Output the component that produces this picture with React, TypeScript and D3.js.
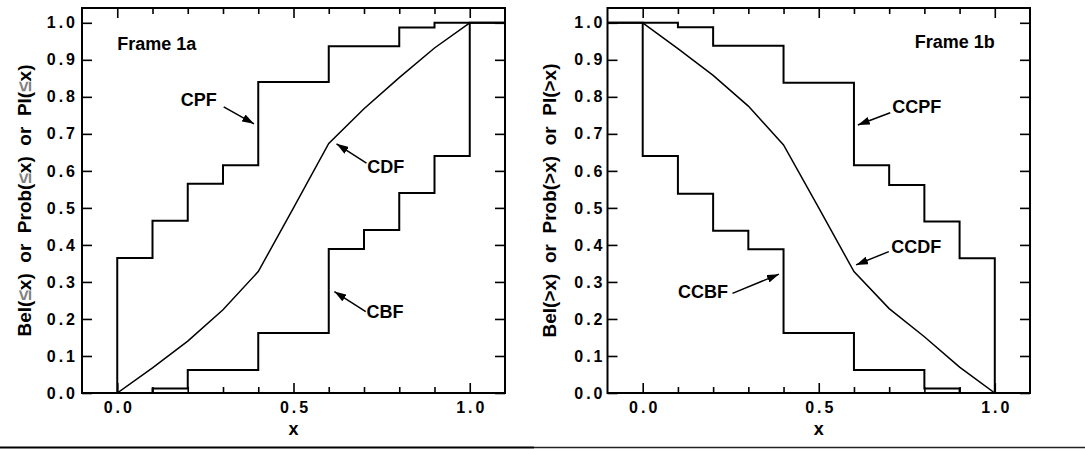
import React, { useRef, useEffect } from 'react';
import * as d3 from 'd3';

const W = 1085;
const H = 449;

// left edges of the step intervals [0,0.1) ... [0.9,1.0)
const stepX = [0, 0.1, 0.2, 0.3, 0.4, 0.5, 0.6, 0.7, 0.8, 0.9];
const cpf = [0.365, 0.465, 0.565, 0.615, 0.84, 0.84, 0.937, 0.937, 0.987, 1.0];
const cbf = [0, 0.012, 0.062, 0.062, 0.162, 0.162, 0.389, 0.44, 0.54, 0.64];
const ccpf = [1.0, 0.988, 0.938, 0.938, 0.838, 0.838, 0.615, 0.562, 0.463, 0.364];
const ccbf = [0.64, 0.538, 0.438, 0.388, 0.162, 0.162, 0.062, 0.062, 0.012, 0];

// smooth distribution curves
const curveX = [0, 0.1, 0.2, 0.3, 0.4, 0.5, 0.6, 0.7, 0.8, 0.9, 1.0];
const cdf = [0, 0.068, 0.14, 0.225, 0.328, 0.5, 0.674, 0.768, 0.852, 0.932, 1.0];
const ccdf = [1.0, 0.93, 0.858, 0.775, 0.67, 0.5, 0.328, 0.228, 0.152, 0.07, 0];

const xMajor = [0, 0.5, 1.0];
const xMinor = [0.1, 0.2, 0.3, 0.4, 0.6, 0.7, 0.8, 0.9];
const yTicks = [0, 0.1, 0.2, 0.3, 0.4, 0.5, 0.6, 0.7, 0.8, 0.9, 1.0];

// labels with arrows, in data units
const annLeft = [
  { text: 'CPF', tx: 0.18, ty: 0.775, fx: 0.302, fy: 0.773, ax: 0.388, ay: 0.727 },
  { text: 'CDF', tx: 0.709, ty: 0.594, fx: 0.707, fy: 0.621, ax: 0.622, ay: 0.673 },
  { text: 'CBF', tx: 0.707, ty: 0.203, fx: 0.705, fy: 0.22, ax: 0.616, ay: 0.274 },
];
const annRight = [
  { text: 'CCPF', tx: 0.709, ty: 0.756, fx: 0.703, fy: 0.757, ax: 0.611, ay: 0.724 },
  { text: 'CCDF', tx: 0.706, ty: 0.378, fx: 0.699, fy: 0.382, ax: 0.606, ay: 0.346 },
  { text: 'CCBF', tx: 0.1, ty: 0.257, fx: 0.255, fy: 0.269, ax: 0.387, ay: 0.321 },
];

const FONT = '"Liberation Sans", Arial, sans-serif';

function stepPoints(vals, pre, post) {
  const pts = [[-0.1, pre]];
  stepX.forEach((x, i) => pts.push([x, vals[i]]));
  pts.push([1.0, post]);
  pts.push([1.1, post]);
  return pts;
}

function drawPanel(svg, p) {
  const x = d3.scaleLinear().domain([-0.1, 1.1]).range([p.left, p.right]);
  const y = d3.scaleLinear().domain([0, 1.04]).range([393, 8]);
  const g = svg.append('g');

  g.append('clipPath').attr('id', p.id)
    .append('rect')
    .attr('x', p.left).attr('y', 8)
    .attr('width', p.right - p.left).attr('height', 385);

  const stepLine = d3.line().x(d => x(d[0])).y(d => y(d[1])).curve(d3.curveStepAfter);
  const plain = d3.line().x(d => x(d[0])).y(d => y(d[1]));

  const lines = g.append('g').attr('clip-path', `url(#${p.id})`);
  p.steps.forEach(s => {
    lines.append('path')
      .attr('d', stepLine(stepPoints(s.vals, s.pre, s.post)))
      .attr('fill', 'none').attr('stroke', '#000').attr('stroke-width', 2);
  });
  lines.append('path')
    .attr('d', plain(curveX.map((v, i) => [v, p.curve[i]])))
    .attr('fill', 'none').attr('stroke', '#000').attr('stroke-width', 1.5);

  const style = (a) => {
    a.select('.domain').remove();
    a.selectAll('line').attr('stroke', '#000').attr('stroke-width', 1.6);
    a.selectAll('text')
      .attr('font-family', FONT).attr('font-weight', 'bold')
      .attr('font-size', 16).attr('letter-spacing', 3).attr('fill', '#000');
  };

  // x ticks
  g.append('g').attr('transform', 'translate(0,393)')
    .call(d3.axisBottom(x).tickValues(xMajor).tickFormat(d3.format('.1f')).tickSizeInner(-10).tickSizeOuter(0).tickPadding(9))
    .call(style)
    .selectAll('text').attr('dx', 1.5);
  g.append('g').attr('transform', 'translate(0,393)')
    .call(d3.axisBottom(x).tickValues(xMinor).tickFormat('').tickSizeInner(-6).tickSizeOuter(0))
    .call(style);
  g.append('g').attr('transform', 'translate(0,8)')
    .call(d3.axisTop(x).tickValues(xMajor).tickFormat('').tickSizeInner(-10).tickSizeOuter(0))
    .call(style);
  g.append('g').attr('transform', 'translate(0,8)')
    .call(d3.axisTop(x).tickValues(xMinor).tickFormat('').tickSizeInner(-6).tickSizeOuter(0))
    .call(style);

  // y ticks
  g.append('g').attr('transform', `translate(${p.left},0)`)
    .call(d3.axisLeft(y).tickValues(yTicks).tickFormat(d3.format('.1f')).tickSizeInner(-10).tickSizeOuter(0).tickPadding(p.labelPad))
    .call(style);
  g.append('g').attr('transform', `translate(${p.right},0)`)
    .call(d3.axisRight(y).tickValues(yTicks).tickFormat('').tickSizeInner(-10).tickSizeOuter(0))
    .call(style);

  // frame
  g.append('rect')
    .attr('x', p.left).attr('y', 8)
    .attr('width', p.right - p.left).attr('height', 385)
    .attr('fill', 'none').attr('stroke', '#000').attr('stroke-width', 2);

  // axis titles
  g.append('text')
    .attr('x', x(0.5)).attr('y', 435)
    .attr('text-anchor', 'middle')
    .attr('font-family', FONT).attr('font-weight', 'bold').attr('font-size', 18)
    .text('x');

  const yt = g.append('text')
    .attr('transform', `translate(${p.titleX},200.5) rotate(-90)`)
    .attr('text-anchor', 'middle')
    .attr('font-family', FONT).attr('font-weight', 'bold').attr('font-size', 19)
    .style('white-space', 'pre');
  p.yTitle.forEach(part => {
    yt.append('tspan').attr('fill', part.grey ? '#808080' : '#000').text(part.t);
  });

  // frame label
  g.append('text')
    .attr('x', x(p.frameLabel.x)).attr('y', y(p.frameLabel.y))
    .attr('text-anchor', p.frameLabel.anchor)
    .attr('font-family', FONT).attr('font-weight', 'bold').attr('font-size', 18)
    .text(p.frameLabel.text);

  // annotations
  p.ann.forEach(a => {
    g.append('text')
      .attr('x', x(a.tx)).attr('y', y(a.ty))
      .attr('font-family', FONT).attr('font-weight', 'bold').attr('font-size', 18)
      .text(a.text);
    g.append('line')
      .attr('x1', x(a.fx)).attr('y1', y(a.fy))
      .attr('x2', x(a.ax)).attr('y2', y(a.ay))
      .attr('stroke', '#000').attr('stroke-width', 1.5)
      .attr('marker-end', 'url(#arrowHead)');
  });
}

export default function App() {
  const svgRef = useRef(null);

  useEffect(() => {
    const svg = d3.select(svgRef.current);
    svg.selectAll('*').remove();

    svg.append('defs').append('marker')
      .attr('id', 'arrowHead')
      .attr('markerUnits', 'userSpaceOnUse')
      .attr('markerWidth', 13).attr('markerHeight', 8)
      .attr('refX', 12).attr('refY', 4)
      .attr('orient', 'auto')
      .append('path').attr('d', 'M0,0 L12,4 L0,8 Z').attr('fill', '#000');

    drawPanel(svg, {
      id: 'clipA', left: 82, right: 505, labelPad: 4, titleX: 31,
      steps: [
        { vals: cpf, pre: 0, post: 1 },
        { vals: cbf, pre: 0, post: 1 },
      ],
      curve: cdf,
      yTitle: [
        { t: 'Bel(' }, { t: '≤', grey: true }, { t: 'x)  or  Prob(' }, { t: '≤', grey: true },
        { t: 'x)  or  Pl(' }, { t: '≤', grey: true }, { t: 'x)' },
      ],
      frameLabel: { text: 'Frame 1a', x: 0, y: 0.927, anchor: 'start' },
      ann: annLeft,
    });

    drawPanel(svg, {
      id: 'clipB', left: 607.5, right: 1030, labelPad: 2, titleX: 556,
      steps: [
        { vals: ccpf, pre: 1, post: 0 },
        { vals: ccbf, pre: 1, post: 0 },
      ],
      curve: ccdf,
      yTitle: [{ t: 'Bel(>x)  or  Prob(>x)  or  Pl(>x)' }],
      frameLabel: { text: 'Frame 1b', x: 1.0, y: 0.932, anchor: 'end' },
      ann: annRight,
    });

    // separator rule under the panels
    svg.append('line').attr('x1', 0).attr('x2', 534).attr('y1', 447.5).attr('y2', 447.5)
      .attr('stroke', '#000').attr('stroke-width', 2);
    svg.append('line').attr('x1', 534).attr('x2', W).attr('y1', 447.5).attr('y2', 447.5)
      .attr('stroke', '#222').attr('stroke-width', 1.3);
  }, []);

  return (
    <svg ref={svgRef} width={W} height={H}
      style={{ position: 'absolute', left: 0, top: 0, background: '#fff' }} />
  );
}
